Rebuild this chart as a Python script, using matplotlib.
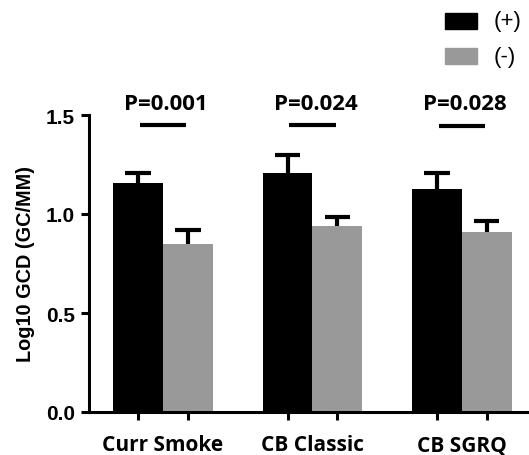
import numpy as np
import matplotlib.pyplot as plt
from matplotlib.patches import Rectangle

# ----- data -----
categories = ["Curr Smoke", "CB Classic", "CB SGRQ"]
pos_mean = [1.158, 1.208, 1.127]
pos_sem = [0.048, 0.088, 0.079]
neg_mean = [0.846, 0.937, 0.907]
neg_sem = [0.072, 0.050, 0.060]
p_labels = ["P=0.001", "P=0.024", "P=0.028"]
p_line_y = [1.45, 1.45, 1.445]
series_labels = ["(+)", "(-)"]

BLACK = "#000000"
GREY = "#999999"

fig = plt.figure(figsize=(5.29, 4.56), dpi=100)
ax = fig.add_axes([89 / 529, 43 / 456, 438 / 529, 297 / 456])

x = np.arange(len(categories))
w = 0.334
cap = 0.084

for xs, means, sems, col in [(x - w / 2, pos_mean, pos_sem, BLACK),
                             (x + w / 2, neg_mean, neg_sem, GREY)]:
    ax.bar(xs, means, w, color=col, zorder=2)
    tops = np.array(means) + np.array(sems)
    # upper-only error bars
    ax.vlines(xs, means, tops, color=BLACK, lw=3, zorder=1)
    ax.hlines(tops, xs - cap, xs + cap, color=BLACK, lw=3, zorder=1)

# significance lines + p values
for i in range(len(categories)):
    ax.plot([x[i] - w / 2 + 0.01, x[i] + w / 2 - 0.01], [p_line_y[i], p_line_y[i]],
            color=BLACK, lw=3, clip_on=False, solid_capstyle="butt")
    ax.text(x[i] + 0.02, 1.56, p_labels[i], ha="center", va="center",
            fontsize=16, fontweight="bold", family="Open Sans", clip_on=False)

ax.set_xlim(-0.495, 2.435)
ax.set_ylim(0, 1.5)
ax.set_yticks([0.0, 0.5, 1.0, 1.5])
ax.set_yticklabels(["0.0", "0.5", "1.0", "1.5"], fontsize=15,
                   fontweight="bold", family="Liberation Sans")
ax.set_xticks(np.concatenate([x - w / 2, x + w / 2]))
ax.set_xticklabels([])
for i, c in enumerate(categories):
    ax.text(x[i], -0.165, c, ha="center", va="center", fontsize=15,
            fontweight="bold", family="Open Sans")

ax.set_ylabel("Log10 GCD (GC/MM)", fontsize=14.3, fontweight="bold",
              family="Liberation Sans", labelpad=8)

for s in ["top", "right"]:
    ax.spines[s].set_visible(False)
for s in ["left", "bottom"]:
    ax.spines[s].set_linewidth(2.2)
ax.tick_params(axis="both", width=2.2, length=6, direction="out", pad=4)

# legend as figure-level patches
for j, (col, lab) in enumerate(zip([BLACK, GREY], series_labels)):
    y0 = 1 - (30 + 35 * j) / 456
    fig.patches.append(Rectangle((445 / 529, y0), 32 / 529, 16 / 456,
                                 transform=fig.transFigure, color=col))
    fig.text(494 / 529, y0 + 8 / 456, lab, ha="left", va="center",
             fontsize=16, family="Liberation Sans")

fig.savefig("out.png", dpi=100)
